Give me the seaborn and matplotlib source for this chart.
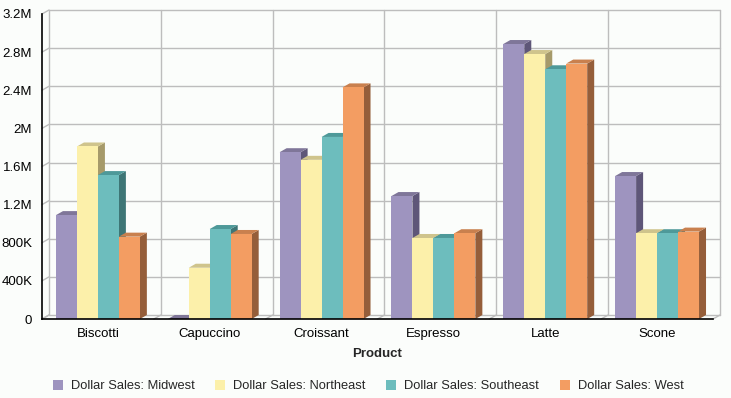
import pandas as pd
import numpy as np
import matplotlib
matplotlib.use("Agg")
import matplotlib.pyplot as plt
import matplotlib.ticker as mticker
import matplotlib.transforms as mtransforms
from matplotlib.patches import Polygon, Patch
import seaborn as sns

# ── Data ──────────────────────────────────────────────────────────────────────
products = ["Biscotti", "Capuccino", "Croissant", "Espresso", "Latte", "Scone"]
regions = ["Dollar Sales: Midwest", "Dollar Sales: Northeast",
           "Dollar Sales: Southeast", "Dollar Sales: West"]
midwest   = [1090000,       0, 1750000, 1290000, 2885000, 1500000]
northeast = [1810000,  538000, 1670000,  850000, 2780000,  900000]
southeast = [1510000,  944000, 1910000,  850000, 2620000,  900000]
west      = [ 864000,  892000, 2430000,  900000, 2680000,  917000]

front_cols = ["#9E94BF", "#FCF0AA", "#6DBDBD", "#F39D62"]
top_cols   = ["#7F7699", "#CFC48C", "#4E9999", "#C9804E"]
side_cols  = ["#5E5678", "#A69A6A", "#3E7676", "#955E3A"]

df = pd.DataFrame({
    "product": products * 4,
    "region": np.repeat(regions, len(products)),
    "sales": midwest + northeast + southeast + west,
})

# ── Style ─────────────────────────────────────────────────────────────────────
sns.set_theme(style="white")
plt.rcParams["font.family"] = ["Liberation Sans", "DejaVu Sans"]
BG = "#FBFDFB"
GRID = "#BDBDBD"

fig = plt.figure(figsize=(7.31, 3.98), dpi=100, facecolor=BG)
W, H = 731, 398
ax = fig.add_axes([42 / W, (H - 319) / H, (713 - 42) / W, (319 - 14) / H])
ax.set_facecolor("none")

sns.barplot(data=df, x="product", y="sales", hue="region", order=products,
            hue_order=regions, palette=front_cols, saturation=1, width=0.75,
            edgecolor="none", linewidth=0, legend=False, ax=ax)

ax.set_xlim(-0.5, 5.5)
ax.set_ylim(0, 3.2e6)

# depth of the fake 3D effect: 7 px right, 4 px up
ax_w_px = (713 - 42)
ax_h_px = (319 - 14)
dx = 7 * 6 / ax_w_px
dy = 4 * 3.2e6 / ax_h_px
offset = mtransforms.ScaledTranslation(0.07, 0.04, fig.dpi_scale_trans)

# back-wall grid
yticks = np.arange(0, 3.2e6 + 1, 4e5)
for v in yticks:
    ln = ax.axhline(v, 0, 1, color=GRID, lw=1, zorder=0.5, clip_on=False)
    ln.set_transform(ln.get_transform() + offset)
    ax.plot([-0.5, -0.5 + dx], [v, v + dy], color=GRID, lw=1, zorder=0.5, clip_on=False)
for b in np.arange(-0.5, 6, 1.0):
    ln = ax.axvline(b, 0, 1, color=GRID, lw=1, zorder=0.5, clip_on=False)
    ln.set_transform(ln.get_transform() + offset)
    ax.plot([b, b + dx], [0, dy], color=GRID, lw=1, zorder=0.5, clip_on=False)

# 3D faces for every bar
bars = []
for k, cont in enumerate(ax.containers):
    for rect in cont:
        bars.append((rect, k))
bars.sort(key=lambda t: t[0].get_x())
for i, (rect, k) in enumerate(bars):
    x0, w, h = rect.get_x(), rect.get_width(), rect.get_height()
    z = 3 + i * 0.1
    side = Polygon([(x0 + w, 0), (x0 + w + dx, dy), (x0 + w + dx, h + dy), (x0 + w, h)],
                   closed=True, facecolor=side_cols[k], edgecolor="none", zorder=z)
    top = Polygon([(x0, h), (x0 + dx, h + dy), (x0 + w + dx, h + dy), (x0 + w, h)],
                  closed=True, facecolor=top_cols[k], edgecolor="none", zorder=z)
    ax.add_patch(side)
    ax.add_patch(top)
    rect.set_zorder(z + 0.05)
    side.set_clip_on(False)
    top.set_clip_on(False)

# ── Axes ──────────────────────────────────────────────────────────────────────
def fmt(v, _):
    if v == 0:
        return "0"
    if v < 1e6:
        return f"{v / 1e3:.0f}K"
    return f"{v / 1e6:g}M"

ax.set_yticks(yticks)
ax.yaxis.set_major_formatter(mticker.FuncFormatter(fmt))
ax.tick_params(axis="both", length=0, labelsize=9.5, colors="black")
ax.tick_params(axis="y", pad=7)
ax.tick_params(axis="x", pad=6.5)
ax.set_ylabel("")
ax.set_xlabel("Product", fontsize=9.5, fontweight="bold", labelpad=5.5)
for s in ["top", "right"]:
    ax.spines[s].set_visible(False)
for s in ["left", "bottom"]:
    ax.spines[s].set_color("black")
    ax.spines[s].set_linewidth(1.2)
    ax.spines[s].set_zorder(10)

handles = [Patch(facecolor=c, edgecolor="none", label=r) for c, r in zip(front_cols, regions)]
fig.legend(handles=handles, loc="center", bbox_to_anchor=(368 / W, 1 - 386 / H),
           ncol=4, frameon=False, fontsize=9.3, handlelength=0.8, handleheight=0.8,
           handletextpad=0.6, columnspacing=1.6)

fig.savefig("out.png", dpi=100, facecolor=BG)
